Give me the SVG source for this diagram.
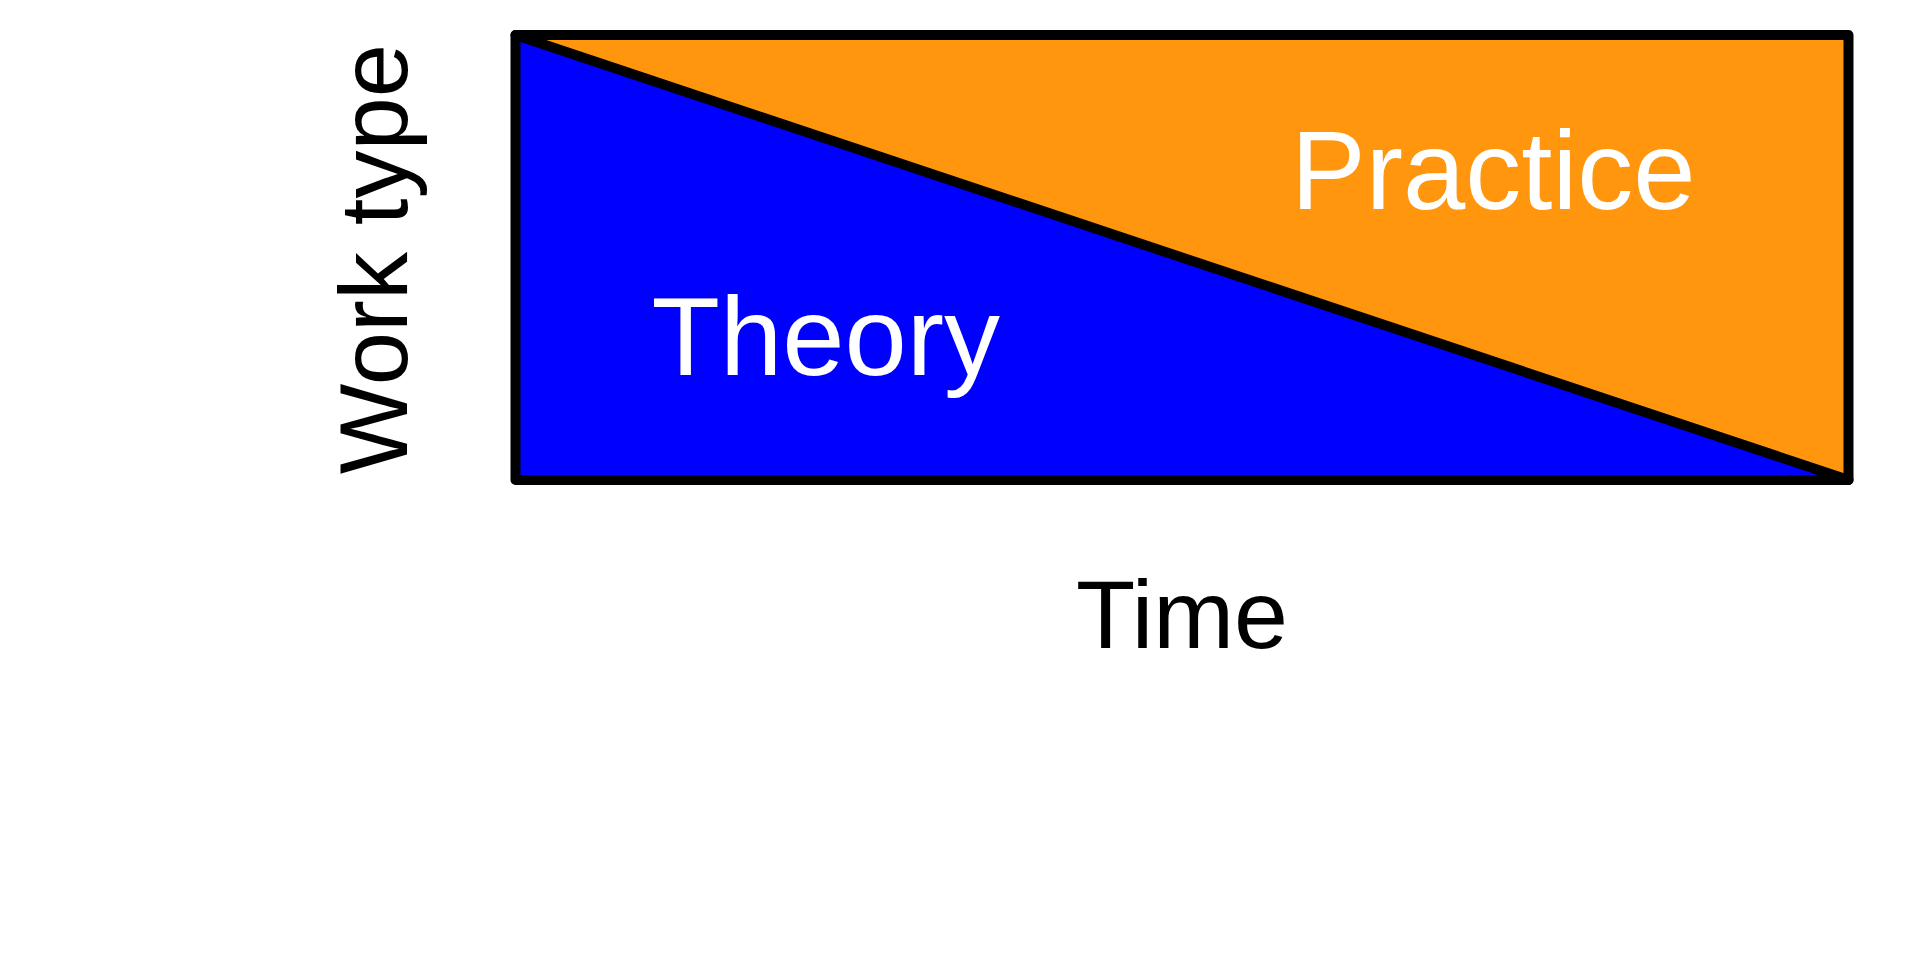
<svg xmlns="http://www.w3.org/2000/svg" width="1920" height="960" viewBox="0 0 1920 960">
<style>
.edge{stroke:#000;stroke-width:10;stroke-linejoin:round;stroke-linecap:round;fill:none}
.lbl{font-family:"Liberation Sans",Arial,sans-serif}
.in{fill:#fff;font-size:112px}
.ax{fill:#000;font-size:97px}
</style>
<rect width="1920" height="960" fill="#fff"/>
<g id="practice">
<polygon points="515.5,35 1848.5,35 1848.5,480" fill="#FF960E"/>
<text class="lbl in" x="1291" y="209">Practice</text>
</g>
<g id="theory">
<polygon points="515.5,35 1848.5,480 515.5,480" fill="#0000FF"/>
<text class="lbl in" x="651.5" y="375">Theory</text>
</g>
<g id="connectors">
<rect class="edge" x="515.5" y="35" width="1333" height="445"/>
<line class="edge" x1="515.5" y1="35" x2="1848.5" y2="480"/>
</g>
<g id="axis-x">
<text class="lbl ax" x="1182" y="648" text-anchor="middle">Time</text>
</g>
<g id="axis-y">
<text class="lbl ax" style="font-size:96px" transform="translate(406.5,259) rotate(-90)" text-anchor="middle">Work type</text>
</g>
</svg>
